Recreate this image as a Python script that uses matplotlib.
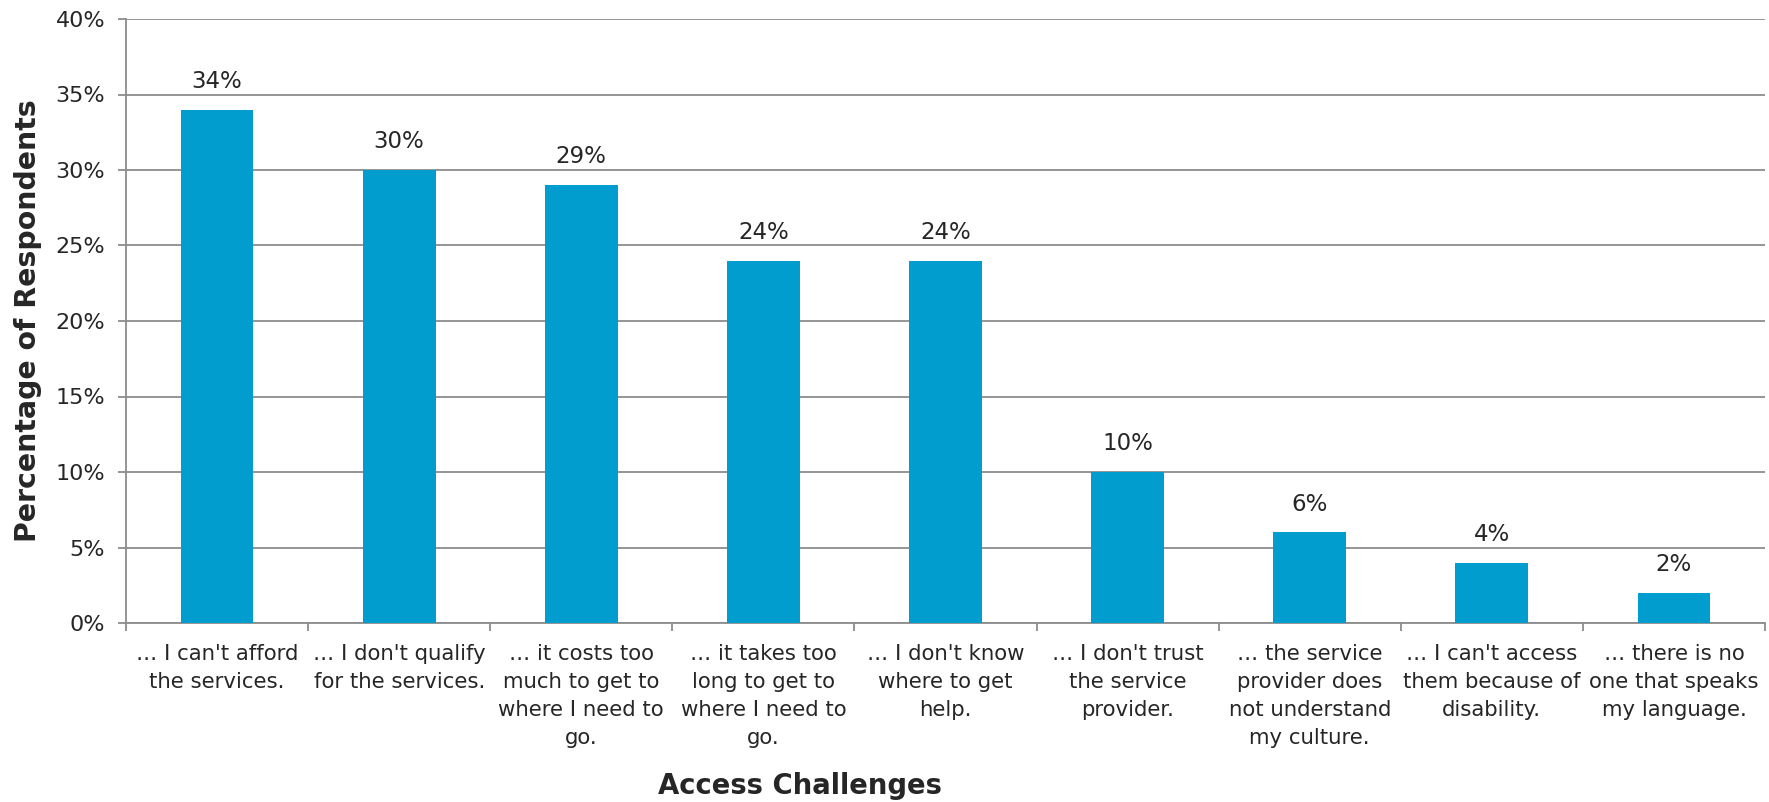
import matplotlib.pyplot as plt
import numpy as np

# Survey data: share of respondents naming each access challenge
categories = [
    "\u2026 I can't afford\nthe services.",
    "\u2026 I don't qualify\nfor the services.",
    "\u2026 it costs too\nmuch to get to\nwhere I need to\ngo.",
    "\u2026 it takes too\nlong to get to\nwhere I need to\ngo.",
    "\u2026 I don't know\nwhere to get\nhelp.",
    "\u2026 I don't trust\nthe service\nprovider.",
    "\u2026 the service\nprovider does\nnot understand\nmy culture.",
    "\u2026 I can't access\nthem because of\ndisability.",
    "\u2026 there is no\none that speaks\nmy language.",
]
values = [34, 30, 29, 24, 24, 10, 6, 4, 2]
y_ticks = [0, 5, 10, 15, 20, 25, 30, 35, 40]

plt.rcParams['font.family'] = ['DejaVu Sans']
bar_color = '#009dce'
grid_color = '#8c8c8c'
text_color = '#262626'

W, H = 1769, 802
fig = plt.figure(figsize=(W / 100, H / 100), dpi=100)
left, right, top, bottom = 126, 1765, 19, 623
ax = fig.add_axes([left / W, 1 - bottom / H, (right - left) / W, (bottom - top) / H])

x = np.arange(len(values))
ax.bar(x, values, width=0.4, color=bar_color, zorder=3)

# value labels above the bars
for xi, v in zip(x, values):
    ax.text(xi, v + 1.1, '%d%%' % v, ha='center', va='bottom', fontsize=16.5, color=text_color)

ax.set_xlim(-0.5, len(values) - 0.5)
ax.set_ylim(0, 40)
ax.set_yticks(y_ticks)
ax.set_yticklabels(['%d%%' % t for t in y_ticks], fontsize=16, color=text_color)
ax.yaxis.grid(True, color=grid_color, linewidth=1.3, zorder=0)

# category labels sit between boundary ticks
ax.set_xticks(x)
ax.set_xticklabels(categories, fontsize=15.3, color=text_color, linespacing=1.5, va='top')
ax.tick_params(axis='x', length=0, pad=15)
ax.set_xticks(np.arange(len(values) + 1) - 0.5, minor=True)
ax.tick_params(axis='x', which='minor', length=6, width=1.3, color=grid_color, direction='out')
ax.tick_params(axis='y', length=6, width=1.3, color=grid_color, pad=9)

for side in ['top', 'right']:
    ax.spines[side].set_visible(False)
for side in ['left', 'bottom']:
    ax.spines[side].set_color(grid_color)
    ax.spines[side].set_linewidth(1.3)

ax.set_ylabel('Percentage of Respondents', fontsize=20.4, fontweight='bold', color=text_color, va='center')
ax.yaxis.set_label_coords(-0.06, 0.5)
ax.set_xlabel('Access Challenges', fontsize=19.8, fontweight='bold', color=text_color, va='center')
ax.xaxis.set_label_coords(0.411, -0.27)

fig.savefig('out.png', dpi=100)
